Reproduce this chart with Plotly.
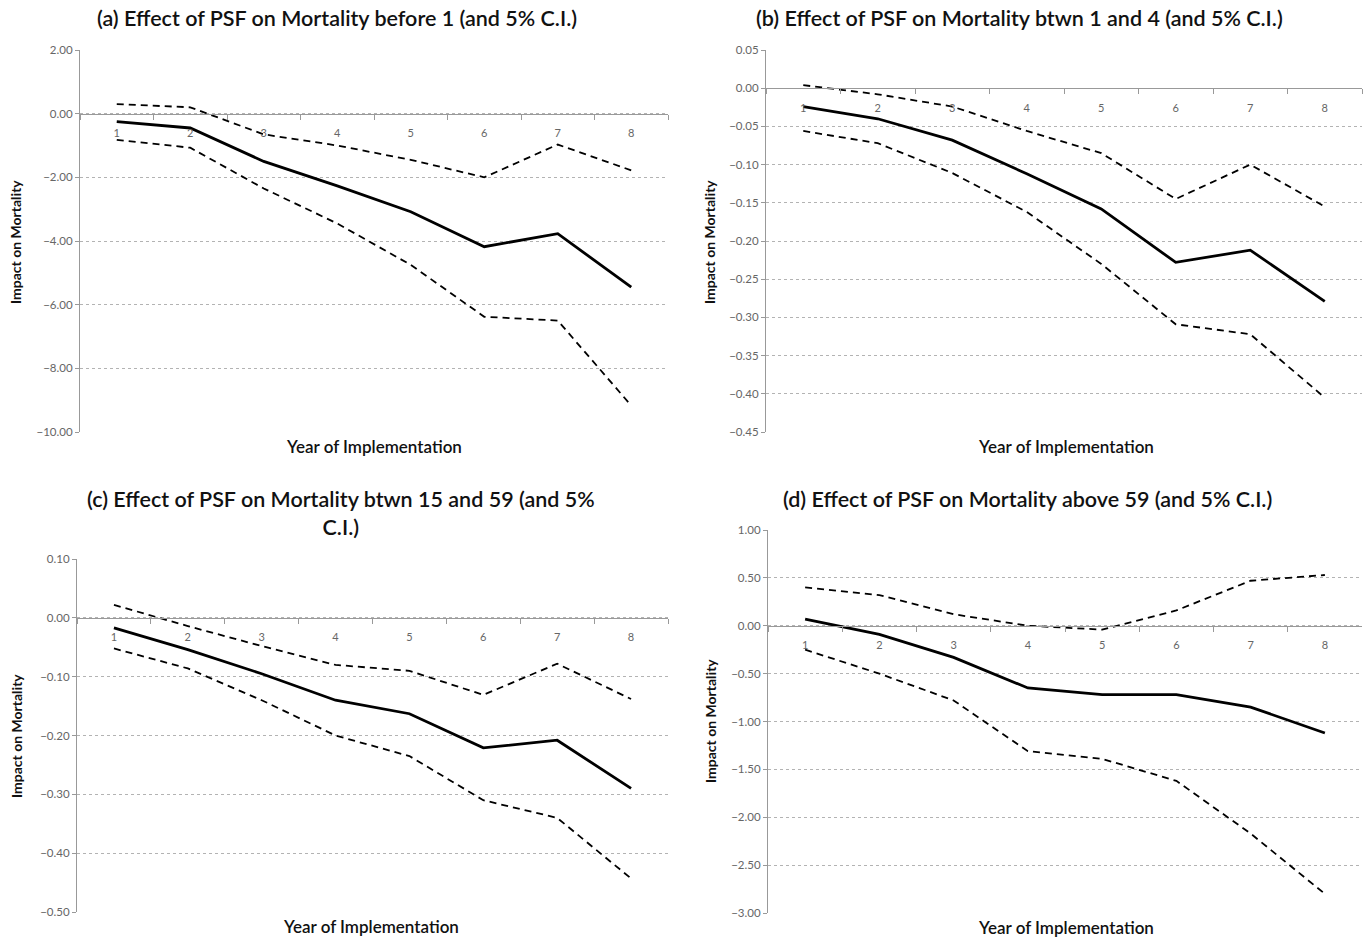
import plotly.graph_objects as go

years = ["1", "2", "3", "4", "5", "6", "7", "8"]

# (a) before 1
a_est = [-0.25, -0.45, -1.50, -2.27, -3.08, -4.18, -3.77, -5.45]
a_up = [0.30, 0.20, -0.65, -1.00, -1.45, -2.00, -0.97, -1.78]
a_lo = [-0.82, -1.07, -2.35, -3.45, -4.75, -6.38, -6.50, -9.17]

# (b) between 1 and 4
b_est = [-0.024, -0.040, -0.068, -0.112, -0.158, -0.228, -0.212, -0.279]
b_up = [0.004, -0.008, -0.024, -0.056, -0.085, -0.145, -0.100, -0.155]
b_lo = [-0.056, -0.072, -0.111, -0.162, -0.230, -0.309, -0.322, -0.405]

# (c) between 15 and 59
c_est = [-0.017, -0.054, -0.095, -0.140, -0.163, -0.221, -0.208, -0.290]
c_up = [0.022, -0.014, -0.048, -0.080, -0.090, -0.131, -0.078, -0.138]
c_lo = [-0.052, -0.086, -0.140, -0.200, -0.235, -0.310, -0.340, -0.443]

# (d) above 59
d_est = [0.07, -0.09, -0.33, -0.65, -0.72, -0.72, -0.85, -1.12]
d_up = [0.40, 0.32, 0.12, 0.00, -0.04, 0.16, 0.47, 0.53]
d_lo = [-0.25, -0.50, -0.78, -1.31, -1.39, -1.62, -2.17, -2.80]

titles = [
    "(a) Effect of PSF on Mortality before 1 (and 5% C.I.)",
    "(b) Effect of PSF on Mortality btwn 1 and 4 (and 5% C.I.)",
    "(c) Effect of PSF on Mortality btwn 15 and 59 (and 5%<br>C.I.)",
    "(d) Effect of PSF on Mortality above 59 (and 5% C.I.)",
]
y_ranges = [(-10, 2, 2), (-0.45, 0.05, 0.05), (-0.5, 0.1, 0.1), (-3, 1, 0.5)]
series = [(a_est, a_up, a_lo), (b_est, b_up, b_lo), (c_est, c_up, c_lo), (d_est, d_up, d_lo)]

W, H = 1364, 939
# pixel boxes of plot areas: left, right, top, bottom
boxes = [(80, 668, 50, 432), (766, 1362, 50, 432), (77, 668, 559, 912), (768, 1362, 530, 913)]
title_pos = [(337, 18), (1019, 18), (341, 513), (1027, 499)]
ytitle_pos = [(16, 242), (710, 242), (16, 736), (710, 721)]
xtitle_pos = [(374, 446), (1066, 446), (371, 926), (1066, 927)]

FONT = "Lato"
GRAY = "#999999"
fig = go.Figure()
layout = dict(
    width=W, height=H, margin=dict(l=0, r=0, t=0, b=0, pad=0, autoexpand=False),
    paper_bgcolor="white", plot_bgcolor="white", showlegend=False,
    font=dict(family=FONT, color="#000"),
)
annotations = []
for i in range(4):
    n = "" if i == 0 else str(i + 1)
    l, r, t, b = boxes[i]
    ymin, ymax, dt = y_ranges[i]
    xd = [l / W, r / W]
    yd = [(H - b) / H, (H - t) / H]
    pos = yd[0] + (0 - ymin) / (ymax - ymin) * (yd[1] - yd[0])
    est, up, lo = series[i]
    for vals, dash, wdt in [(up, "7px,5px", 1.8), (lo, "7px,5px", 1.8), (est, "solid", 2.8)]:
        fig.add_trace(go.Scatter(x=years, y=vals, mode="lines",
                                 line=dict(color="black", width=wdt, dash=dash),
                                 xaxis="x" + n, yaxis="y" + n, hoverinfo="skip"))
    layout["xaxis" + n] = dict(
        domain=xd, type="category", range=[-0.5, 7.5], anchor="free", position=pos,
        showline=True, linecolor=GRAY, linewidth=1.2, showgrid=False, automargin=False,
        ticks="outside", ticklen=5, tickcolor=GRAY, tickson="boundaries",
        tickfont=dict(size=11, color="#666666", family=FONT), ticklabelstandoff=9,
        fixedrange=True, layer="above traces",
    )
    layout["yaxis" + n] = dict(
        domain=yd, range=[ymin, ymax], anchor="x" + n, dtick=dt, tick0=0, automargin=False,
        tickformat=".2f", showline=True, linecolor=GRAY, linewidth=1.2,
        showgrid=True, gridcolor="#b3b3b3", griddash="dot", gridwidth=1,
        zeroline=False, ticks="outside", ticklen=4, tickcolor=GRAY,
        tickfont=dict(size=11.5, color="#666666", family=FONT), fixedrange=True,
    )
    tx, ty = title_pos[i]
    annotations.append(dict(text=titles[i], x=tx / W, y=1 - ty / H, xref="paper", yref="paper",
                            xanchor="center", yanchor="middle", showarrow=False,
                            font=dict(size=21.5, family=FONT, color="#111", weight=600)))
    yx, yy = ytitle_pos[i]
    annotations.append(dict(text="Impact on Mortality", x=yx / W, y=1 - yy / H, xref="paper", yref="paper",
                            xanchor="center", yanchor="middle", showarrow=False, textangle=-90,
                            font=dict(size=14, family=FONT, color="#111", weight="bold")))
    xx, xy = xtitle_pos[i]
    annotations.append(dict(text="Year of Implementation", x=xx / W, y=1 - xy / H, xref="paper", yref="paper",
                            xanchor="center", yanchor="middle", showarrow=False,
                            font=dict(size=17, family=FONT, color="#111", weight=600)))
layout["annotations"] = annotations
fig.update_layout(**layout)
fig.write_html("out.html", config={"displayModeBar": False},
               post_script="document.body.style.margin='0';document.body.style.overflow='hidden';")
